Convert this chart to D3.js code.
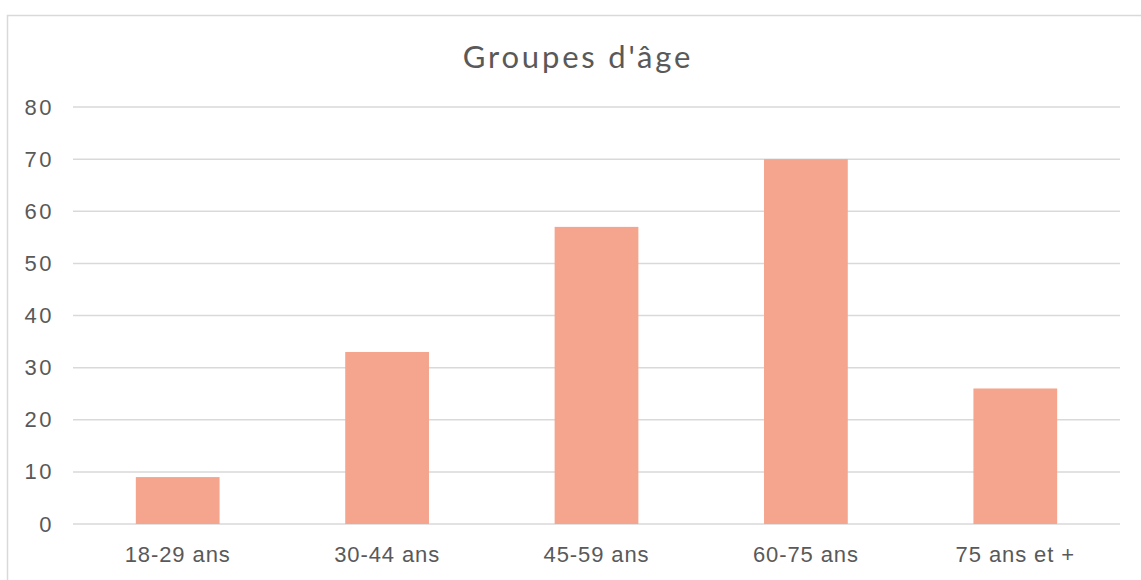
<!DOCTYPE html>
<html><head><meta charset="utf-8">
<script src="https://cdn.jsdelivr.net/npm/d3@7"></script>
<style>body{margin:0;background:#fff;}svg{display:block;font-family:Lato,"Open Sans",sans-serif;}</style>
</head><body>
<script>
const categories = ["18-29 ans","30-44 ans","45-59 ans","60-75 ans","75 ans et +"];
const values = [9, 33, 57, 70, 26];
const yTicks = [0,10,20,30,40,50,60,70,80];
const title = "Groupes d'âge";

(function () {
const W = 1141, H = 580;
const svg = d3.select("body").append("svg").attr("width", W).attr("height", H);
svg.append("rect").attr("x", 7.5).attr("y", 15.5).attr("width", W + 20).attr("height", H + 20)
  .attr("fill", "#fff").attr("stroke", "#d9d9d9").attr("stroke-width", 1.5);

const mL = 73, mR = 1120, mT = 107, mB = 524;
const x = d3.scaleBand().domain(categories).range([mL, mR]).paddingInner(0.6).paddingOuter(0.3);
const y = d3.scaleLinear().domain([0, 80]).range([mB, mT]);

svg.append("g").selectAll("line").data(yTicks).join("line")
  .attr("x1", mL).attr("x2", mR).attr("y1", d => y(d)).attr("y2", d => y(d))
  .attr("stroke", "#d9d9d9").attr("stroke-width", 1.5);

svg.append("g").selectAll("rect").data(values).join("rect")
  .attr("x", (d, i) => x(categories[i])).attr("width", x.bandwidth())
  .attr("y", d => y(d)).attr("height", d => y(0) - y(d)).attr("fill", "#f5a58d");

const yAxis = svg.append("g").attr("transform", `translate(${mL},0)`)
  .call(d3.axisLeft(y).tickValues(yTicks).tickSize(0).tickPadding(19));
yAxis.select(".domain").remove();
yAxis.selectAll("text").attr("fill", "#595959").style("font-size", "22px").style("letter-spacing", "2.5px");

const xAxis = svg.append("g").attr("transform", `translate(0,${mB})`)
  .call(d3.axisBottom(x).tickSize(0).tickPadding(22));
xAxis.select(".domain").remove();
xAxis.selectAll("text").attr("fill", "#595959").style("font-size", "22px").style("letter-spacing", "0.9px");

svg.append("text").attr("x", 578).attr("y", 68).attr("text-anchor", "middle")
  .attr("fill", "#595959").style("font-size", "31px").style("letter-spacing", "2.8px").text(title);
})();
</script>
</body></html>
